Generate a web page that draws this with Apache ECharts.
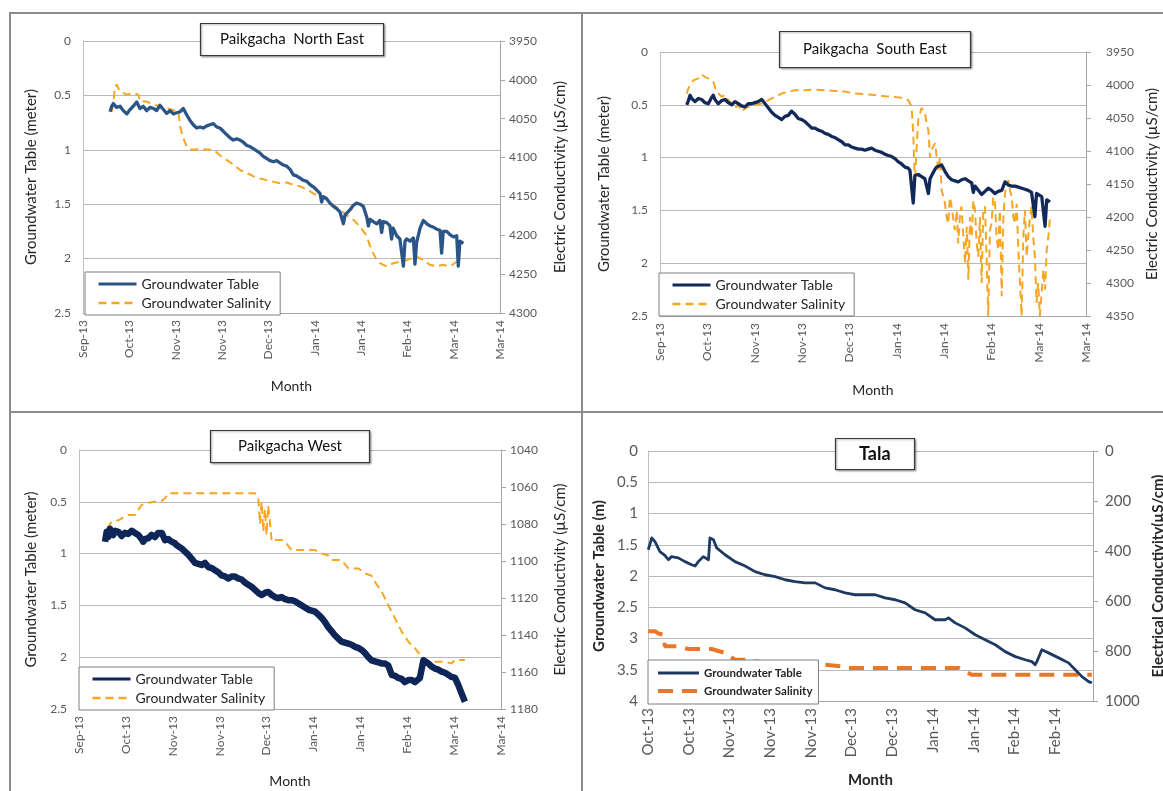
<!DOCTYPE html>
<html><head><meta charset="utf-8">
<script src="https://cdn.jsdelivr.net/npm/echarts@6/dist/echarts.min.js"></script>
<style>
html,body{margin:0;padding:0;background:#fff;}
#wrap{position:relative;width:1163px;height:791px;overflow:hidden;background:#fff;}
.p{position:absolute;}
.ln{position:absolute;background:#8c8c8c;}
</style></head><body>
<div id="wrap">
<div class="p" id="c1" style="left:0;top:0;width:582px;height:412px"></div>
<div class="p" id="c2" style="left:582px;top:0;width:581px;height:412px"></div>
<div class="p" id="c3" style="left:0;top:412px;width:582px;height:379px"></div>
<div class="p" id="c4" style="left:582px;top:412px;width:581px;height:379px"></div>
<div class="ln" style="left:9px;top:12px;width:1154px;height:1.5px"></div>
<div class="ln" style="left:9px;top:12px;width:1.5px;height:779px"></div>
<div class="ln" style="left:581px;top:12px;width:2px;height:779px"></div>
<div class="ln" style="left:9px;top:411px;width:1154px;height:2px"></div>
</div>
<script>
// ---------- tick labels (x axis, day offsets from first tick) ----------
var xLabelsPaik = ['Sep-13','Oct-13','Nov-13','Nov-13','Dec-13','Jan-14','Jan-14','Feb-14','Mar-14','Mar-14'];
var xLabelsTala = ['Oct-13','Oct-13','Nov-13','Nov-13','Nov-13','Dec-13','Dec-13','Jan-14','Jan-14','Feb-14','Feb-14'];

// ---------- Paikgacha North East: [day, depth m] / [day, EC µS/cm] ----------
var neTable = [[11.7,0.65],[12.4,0.60],[13.1,0.575],[14.5,0.61],[16.0,0.60],[17.4,0.64],[18.9,0.67],[20.3,0.63],[21.7,0.60],[23.2,0.56],[24.6,0.62],[26.0,0.60],[27.5,0.64],[28.9,0.61],[30.4,0.62],[31.8,0.64],[33.2,0.59],[34.7,0.63],[36.1,0.665],[37.6,0.64],[39.0,0.67],[40.4,0.66],[41.9,0.65],[43.3,0.62],[44.8,0.68],[46.2,0.73],[47.6,0.77],[49.1,0.80],[50.5,0.79],[51.9,0.80],[53.4,0.78],[54.8,0.77],[56.3,0.76],[57.7,0.79],[59.1,0.80],[60.6,0.83],[62.0,0.86],[63.5,0.89],[64.9,0.91],[66.3,0.90],[67.8,0.91],[69.2,0.93],[70.7,0.96],[72.1,0.97],[73.5,0.99],[75.0,1.01],[76.4,1.03],[77.8,1.06],[79.3,1.08],[80.7,1.10],[82.2,1.11],[83.6,1.10],[85.0,1.12],[86.5,1.14],[87.9,1.15],[89.4,1.18],[90.8,1.23],[92.2,1.24],[93.7,1.26],[95.1,1.28],[96.6,1.29],[98.0,1.32],[99.4,1.34],[100.9,1.37],[102.3,1.40],[103.0,1.48],[103.7,1.43],[105.2,1.45],[106.6,1.49],[108.1,1.52],[109.5,1.54],[110.9,1.57],[112.4,1.68],[113.1,1.60],[113.8,1.61],[115.3,1.55],[116.7,1.51],[118.1,1.49],[119.6,1.50],[121.0,1.52],[122.5,1.62],[123.2,1.70],[123.9,1.64],[125.3,1.66],[126.8,1.68],[128.2,1.65],[128.9,1.76],[129.6,1.66],[131.1,1.67],[132.5,1.70],[133.2,1.82],[133.9,1.72],[135.4,1.79],[136.8,1.82],[138.3,2.07],[139.0,1.84],[139.7,1.82],[141.2,1.84],[142.6,1.81],[143.3,2.05],[144.0,1.85],[145.5,1.72],[146.9,1.65],[148.4,1.68],[149.8,1.70],[151.2,1.71],[152.7,1.73],[154.1,1.74],[154.8,1.95],[155.5,1.75],[157.0,1.75],[158.4,1.78],[159.9,1.80],[161.3,1.79],[162.0,2.07],[162.7,1.84],[164.2,1.86]];
var neSalinity = [[12.4,4041],[13.1,4030],[13.8,4009],[14.5,4006],[16.0,4015],[18.9,4019],[21.7,4017],[23.9,4019],[24.6,4028],[27.5,4028],[30.4,4032],[33.2,4034],[36.1,4036],[39.0,4039],[41.2,4041],[41.9,4060],[43.3,4075],[44.8,4086],[46.9,4090],[50.5,4089],[56.3,4090],[59.1,4097],[62.0,4103],[64.9,4109],[67.8,4116],[70.7,4120],[73.5,4124],[76.4,4127],[79.3,4129],[82.2,4131],[85.0,4133],[87.9,4132],[90.8,4135],[93.7,4137],[96.6,4141],[99.4,4146],[102.3,4150],[105.2,4154],[108.1,4161],[110.9,4167],[113.8,4174],[116.7,4180],[119.6,4189],[122.5,4201],[123.9,4214],[125.3,4223],[126.8,4232],[128.2,4236],[131.1,4240],[133.9,4236],[136.8,4234],[139.7,4232],[142.6,4229],[144.0,4227],[146.9,4232],[149.8,4238],[152.7,4240],[155.5,4238],[158.4,4240],[161.3,4234],[162.7,4232]];

// ---------- Paikgacha South East ----------
var seTable = [[11.3,0.50],[12.0,0.46],[12.7,0.41],[13.4,0.44],[14.8,0.47],[16.2,0.44],[17.6,0.45],[19.0,0.48],[20.4,0.49],[21.8,0.43],[22.5,0.41],[23.2,0.45],[24.6,0.49],[26.1,0.46],[27.5,0.45],[28.9,0.48],[30.3,0.50],[31.7,0.47],[33.1,0.49],[34.5,0.51],[35.9,0.52],[37.3,0.49],[38.7,0.49],[40.1,0.48],[41.5,0.47],[43.0,0.45],[44.4,0.49],[45.8,0.53],[47.2,0.57],[48.6,0.60],[50.0,0.62],[51.4,0.64],[52.8,0.61],[54.2,0.60],[55.6,0.56],[57.0,0.59],[58.4,0.63],[59.9,0.64],[61.3,0.66],[62.7,0.69],[64.1,0.72],[65.5,0.72],[66.9,0.74],[68.3,0.75],[69.7,0.77],[71.1,0.78],[72.5,0.80],[73.9,0.81],[75.3,0.83],[76.8,0.85],[78.2,0.88],[79.6,0.88],[81.0,0.90],[82.4,0.91],[83.8,0.92],[85.2,0.92],[86.6,0.93],[88.0,0.92],[89.4,0.91],[90.8,0.93],[92.2,0.94],[93.7,0.95],[95.1,0.97],[96.5,0.98],[97.9,0.99],[99.3,1.01],[100.7,1.04],[102.1,1.06],[103.5,1.09],[104.9,1.10],[105.6,1.12],[106.3,1.13],[107.0,1.43],[107.7,1.17],[109.1,1.16],[110.5,1.18],[111.9,1.20],[112.7,1.21],[113.4,1.34],[114.1,1.20],[114.8,1.17],[116.2,1.11],[116.9,1.09],[117.6,1.08],[119.0,1.07],[120.4,1.13],[121.8,1.18],[123.2,1.21],[124.6,1.22],[126.0,1.23],[127.4,1.21],[128.9,1.20],[130.3,1.22],[131.7,1.24],[132.4,1.33],[133.1,1.27],[134.5,1.31],[135.9,1.35],[137.3,1.32],[138.7,1.29],[140.1,1.31],[141.5,1.34],[142.9,1.32],[144.4,1.31],[145.8,1.23],[147.2,1.26],[148.6,1.27],[150.0,1.27],[151.4,1.28],[152.8,1.29],[154.2,1.30],[155.6,1.31],[157.0,1.33],[158.4,1.56],[159.1,1.34],[159.8,1.34],[161.3,1.37],[162.7,1.65],[163.4,1.40],[164.8,1.42]];
var seSalinity = [[11.3,4013],[12.0,4005],[12.7,4008],[14.1,3993],[16.2,3990],[17.6,3984],[19.0,3988],[20.4,3990],[22.5,3995],[23.9,4010],[26.1,4018],[27.5,4015],[28.9,4023],[30.3,4028],[31.7,4035],[33.1,4030],[34.5,4040],[35.9,4036],[37.3,4033],[40.1,4030],[43.0,4028],[45.8,4023],[48.6,4018],[51.4,4013],[54.2,4010],[57.0,4008],[61.3,4008],[65.5,4007],[69.7,4008],[73.9,4009],[78.2,4010],[82.4,4013],[86.6,4014],[90.8,4015],[95.1,4017],[99.3,4018],[102.8,4020],[104.9,4023],[106.3,4033],[107.0,4073],[107.7,4149],[108.4,4098],[109.1,4053],[110.5,4035],[111.9,4040],[112.7,4060],[113.4,4068],[114.1,4110],[114.8,4098],[116.2,4088],[117.6,4129],[118.3,4110],[119.0,4159],[120.4,4179],[121.1,4200],[121.8,4210],[122.5,4170],[123.2,4184],[124.6,4220],[125.4,4190],[126.0,4240],[126.7,4200],[127.4,4184],[128.2,4230],[128.9,4270],[129.6,4215],[130.3,4295],[131.0,4200],[131.7,4230],[132.4,4175],[133.1,4189],[133.8,4240],[134.5,4260],[135.2,4200],[135.9,4300],[136.6,4190],[137.3,4184],[138.0,4260],[138.7,4350],[139.4,4220],[140.1,4210],[140.8,4170],[141.5,4174],[142.2,4230],[142.9,4250],[143.6,4190],[144.4,4320],[145.1,4200],[145.8,4164],[146.5,4150],[147.2,4144],[147.9,4160],[148.6,4169],[149.3,4200],[150.0,4210],[150.7,4180],[151.4,4250],[152.1,4300],[152.8,4350],[153.5,4230],[154.2,4189],[154.9,4260],[155.6,4230],[156.3,4200],[157.0,4184],[157.7,4230],[158.4,4260],[159.1,4330],[159.8,4300],[160.5,4350],[161.3,4350],[162.0,4280],[162.7,4310],[163.4,4250],[164.1,4230],[164.8,4200]];

// ---------- Paikgacha West ----------
var wTable = [[11.1,0.885],[11.8,0.79],[12.5,0.84],[13.2,0.76],[13.9,0.80],[14.6,0.82],[15.4,0.78],[16.8,0.79],[18.2,0.83],[18.9,0.84],[19.6,0.80],[21.0,0.81],[22.5,0.78],[23.2,0.77],[23.9,0.80],[25.3,0.82],[26.7,0.86],[27.4,0.885],[28.1,0.86],[29.6,0.85],[31.0,0.82],[32.4,0.84],[33.8,0.80],[34.5,0.79],[35.3,0.80],[36.7,0.87],[38.1,0.86],[39.5,0.885],[40.9,0.90],[41.7,0.92],[42.4,0.93],[43.8,0.95],[45.2,0.98],[46.6,1.01],[48.1,1.05],[49.5,1.09],[50.9,1.10],[52.3,1.11],[53.7,1.09],[55.2,1.13],[56.6,1.14],[58.0,1.16],[59.4,1.18],[60.8,1.21],[62.3,1.22],[63.7,1.24],[65.1,1.22],[66.5,1.22],[67.9,1.24],[69.4,1.25],[70.8,1.28],[72.2,1.30],[73.6,1.32],[75.1,1.35],[76.5,1.38],[77.9,1.40],[79.3,1.38],[80.7,1.37],[82.2,1.40],[83.6,1.42],[85.0,1.43],[86.4,1.42],[87.9,1.44],[89.3,1.45],[90.7,1.45],[92.1,1.46],[93.5,1.48],[95.0,1.50],[96.4,1.52],[97.8,1.54],[99.2,1.55],[100.7,1.56],[102.1,1.59],[103.5,1.62],[104.9,1.66],[106.3,1.71],[107.8,1.75],[109.2,1.79],[110.6,1.82],[112.0,1.85],[113.4,1.86],[114.9,1.87],[116.3,1.88],[117.7,1.90],[119.1,1.91],[120.6,1.93],[122.0,1.96],[123.4,2.00],[124.8,2.03],[126.2,2.04],[127.7,2.05],[129.1,2.06],[130.5,2.06],[131.9,2.08],[133.4,2.17],[134.8,2.18],[136.2,2.20],[137.6,2.21],[139.0,2.24],[140.5,2.22],[141.9,2.22],[143.3,2.24],[144.0,2.25],[145.4,2.20],[146.9,2.03],[147.6,2.04],[149.0,2.06],[150.4,2.09],[151.8,2.11],[153.3,2.12],[154.7,2.14],[156.1,2.15],[157.5,2.17],[158.9,2.19],[160.4,2.20],[161.8,2.27],[163.2,2.35],[164.6,2.43]];
var wSalinity = [[11.1,1089.5],[11.8,1085.0],[12.5,1081.5],[13.9,1078.7],[16.8,1078.0],[19.6,1076.0],[21.0,1075.1],[23.9,1075.1],[26.7,1069.7],[29.6,1068.5],[32.4,1067.9],[35.3,1067.5],[36.7,1066.1],[38.1,1063.4],[40.9,1063.4],[48.1,1063.4],[55.2,1063.4],[62.3,1063.4],[69.4,1063.4],[75.1,1063.4],[76.5,1066],[77.2,1080],[77.9,1068],[78.6,1084],[79.3,1072],[80.0,1086],[80.7,1070],[81.5,1080],[82.2,1089.5],[83.6,1088.6],[86.4,1088.6],[87.9,1089.5],[89.3,1092],[90.7,1094.1],[97.8,1094.1],[100.7,1094.1],[103.5,1095.9],[106.3,1097],[107.8,1099.5],[112.0,1099.5],[114.9,1104.0],[119.1,1104.0],[122.0,1106.7],[124.8,1108],[126.2,1111.2],[129.1,1116.6],[131.9,1123.8],[134.8,1131.0],[137.6,1138.2],[140.5,1143.6],[143.3,1147.2],[146.2,1151.7],[149.0,1154.4],[154.7,1154.4],[158.9,1155.3],[160.4,1153.5],[164.6,1153.5]];

// ---------- Tala ----------
var taTable = [[0.1,1.58],[1.3,1.39],[1.8,1.40],[2.4,1.45],[4.1,1.61],[5.8,1.67],[7.0,1.74],[8.1,1.69],[10.4,1.71],[12.7,1.77],[15.0,1.82],[16.2,1.84],[17.3,1.77],[19.0,1.69],[20.8,1.74],[21.3,1.39],[22.5,1.42],[23.6,1.55],[26.5,1.66],[29.9,1.77],[33.4,1.84],[36.8,1.93],[40.2,1.98],[43.7,2.01],[47.1,2.06],[50.6,2.09],[54.0,2.11],[57.5,2.11],[60.9,2.19],[64.3,2.22],[67.8,2.27],[71.2,2.30],[74.6,2.30],[78.1,2.30],[81.5,2.35],[85.0,2.38],[88.4,2.43],[91.8,2.54],[95.3,2.59],[98.7,2.70],[102.2,2.70],[103.3,2.67],[105.6,2.75],[109.0,2.83],[112.5,2.94],[115.9,3.02],[119.4,3.10],[122.8,3.21],[126.3,3.29],[129.7,3.34],[132.0,3.37],[133.1,3.42],[133.7,3.37],[135.4,3.18],[137.7,3.23],[141.2,3.31],[144.6,3.39],[146.9,3.50],[149.2,3.61],[151.5,3.69],[152.6,3.71]];
var taSalinity = [[0.1,721],[2.4,721],[3.6,730],[5.3,735],[5.8,781],[9.9,781],[13.9,792],[21.9,792],[24.2,800],[26.5,808],[29.9,835],[34.5,835],[39.1,845],[41.4,858],[47.1,855],[60.9,855],[66.6,862],[67.8,868],[106.8,868],[111.3,895],[152.6,895]];

var FONT = 'Lato';

function makeOption(c) {
  var fmt = function (v) {
    var i = Math.round(v / c.xInterval);
    return (Math.abs(v - i * c.xInterval) < 1e-6 && i < c.xLabels.length) ? c.xLabels[i] : '';
  };
  var plain = function (v) { return String(v); };
  var lblColor = '#595959';
  var nameStyle = { fontFamily: FONT, fontSize: c.nameSize, fontWeight: c.bold ? 'bold' : 'normal', color: '#262626' };
  return {
    animation: false,
    textStyle: { fontFamily: FONT },
    title: {
      text: c.title, left: c.titleLeft, top: c.titleTop, padding: c.titlePad,
      borderColor: '#3a3a3a', borderWidth: 1.2, backgroundColor: '#fff',
      shadowColor: 'rgba(0,0,0,0.35)', shadowBlur: 2, shadowOffsetX: 1, shadowOffsetY: 1,
      textStyle: { fontFamily: FONT, fontSize: c.titleSize, fontWeight: c.bold ? 'bold' : 'normal', color: '#111' }
    },
    legend: {
      orient: 'vertical', left: c.legLeft, top: c.legTop, padding: c.legPad, itemGap: c.legGap,
      itemWidth: c.legIconW, itemHeight: 14, borderColor: '#7f7f7f', borderWidth: 1, backgroundColor: '#fff',
      borderRadius: 0, selectedMode: false,
      itemStyle: { color: 'rgba(0,0,0,0)', borderColor: 'rgba(0,0,0,0)', borderWidth: 0 },
      textStyle: { fontFamily: FONT, fontSize: c.legSize, fontWeight: c.bold ? 'bold' : 'normal', color: '#262626' },
      data: [
        { name: 'Groundwater Table', lineStyle: { width: c.legBlueW } },
        { name: 'Groundwater Salinity', lineStyle: { width: c.legOrangeW } }
      ]
    },
    grid: { left: c.gl, top: c.gt, width: c.gw, height: c.gh, containLabel: false, outerBoundsMode: 'none' },
    xAxis: {
      type: 'value', min: 0, max: c.xMax, interval: c.xInterval,
      name: 'Month', nameLocation: 'middle', nameGap: c.monthGap,
      nameTextStyle: { fontFamily: FONT, fontSize: c.monthSize, fontWeight: c.bold ? 'bold' : 'normal', color: '#262626' },
      axisLine: { onZero: false, lineStyle: { color: '#a6a6a6', width: 1 } },
      axisTick: { show: false }, splitLine: { show: false },
      axisLabel: { rotate: 90, margin: 7, color: lblColor, fontFamily: FONT, fontSize: c.tickSize, formatter: fmt, showMaxLabel: c.showMax, hideOverlap: false }
    },
    yAxis: [{
      type: 'value', inverse: true, min: 0, max: c.yMax, interval: 0.5, position: 'left',
      name: c.leftName, nameLocation: 'middle', nameRotate: 90, nameGap: c.leftGap,
      nameTextStyle: nameStyle,
      axisLine: { show: true, onZero: false, lineStyle: { color: '#bfbfbf' } },
      axisTick: { show: false },
      splitLine: { show: true, lineStyle: { color: '#b8b8b8', width: 1 } },
      axisLabel: { margin: c.yLblMargin, color: lblColor, fontFamily: FONT, fontSize: c.tickSize, formatter: plain }
    }, {
      type: 'value', inverse: true, min: c.ecMin, max: c.ecMax, interval: c.ecInterval, position: 'right',
      name: c.rightName, nameLocation: 'middle', nameRotate: 90, nameGap: c.rightGap,
      nameTextStyle: nameStyle,
      axisLine: { show: true, onZero: false, lineStyle: { color: '#a6a6a6' } },
      axisTick: { show: true, inside: false, length: 5, lineStyle: { color: '#a6a6a6' } },
      splitLine: { show: false },
      axisLabel: { margin: c.rLblMargin, color: lblColor, fontFamily: FONT, fontSize: c.tickSize, formatter: plain }
    }],
    series: [{
      name: 'Groundwater Table', type: 'line', yAxisIndex: 0, data: c.table,
      symbol: 'none', showSymbol: false, z: 3,
      lineStyle: { color: c.blue, width: c.blueW, join: 'round' }, itemStyle: { color: c.blue }
    }, {
      name: 'Groundwater Salinity', type: 'line', yAxisIndex: 1, data: c.salinity,
      symbol: 'none', showSymbol: false, z: 2,
      lineStyle: { color: c.orange, width: c.orangeW, type: c.dash }, itemStyle: { color: c.orange }
    }]
  };
}

var common = {
  xLabels: xLabelsPaik, xInterval: 20, xMax: 180, showMax: true, yMax: 2.5,
  tickSize: 12, nameSize: 15, monthSize: 14, titleSize: 15, legSize: 14, bold: false,
  leftName: 'Groundwater Table (meter)', rightName: 'Electric Conductivity (µS/cm)',
  orange: '#F5A623', orangeW: 2, dash: [8, 5], yLblMargin: 12, rLblMargin: 9,
  legPad: [5, 9, 5, 12], legGap: 5, legIconW: 38, legBlueW: 3, legOrangeW: 2.5
};
function merge(a, b) { var o = {}, k; for (k in a) o[k] = a[k]; for (k in b) o[k] = b[k]; return o; }

var panels = [
  ['c1', merge(common, { title: 'Paikgacha  North East', titleLeft: 200, titleTop: 23, titlePad: [9, 20],
    gl: 83, gt: 41, gw: 417, gh: 272, ecMin: 3950, ecMax: 4300, ecInterval: 50,
    leftGap: 44, rightGap: 53, monthGap: 66, legLeft: 85, legTop: 272,
    table: neTable, salinity: neSalinity, blue: '#2B5586', blueW: 3.3 })],
  ['c2', merge(common, { title: 'Paikgacha  South East', titleLeft: 197, titleTop: 31, titlePad: [11, 24],
    gl: 78, gt: 52, gw: 426, gh: 264, ecMin: 3950, ecMax: 4350, ecInterval: 50,
    leftGap: 48, rightGap: 52, rLblMargin: 20, monthGap: 67, legLeft: 77, legTop: 273,
    table: seTable, salinity: seSalinity, blue: '#13295A', blueW: 3.3 })],
  ['c3', merge(common, { title: 'Paikgacha West', titleLeft: 210, titleTop: 18, titlePad: [9, 28],
    gl: 79, gt: 38, gw: 422, gh: 259, ecMin: 1040, ecMax: 1180, ecInterval: 20,
    leftGap: 40, rightGap: 52, monthGap: 65, legLeft: 79, legTop: 255,
    table: wTable, salinity: wSalinity, blue: '#0D2657', blueW: 6.5 })],
  ['c4', merge(common, { title: 'Tala', titleLeft: 253, titleTop: 26, titlePad: [7, 24], titleSize: 18, bold: true,
    xLabels: xLabelsTala, xInterval: 14, xMax: 153, showMax: false, yMax: 4,
    tickSize: 15, nameSize: 15, monthSize: 15, legSize: 11.5, yLblMargin: 10, rLblMargin: 12,
    leftName: 'Groundwater Table (m)', rightName: 'Electrical Conductivity(µS/cm)',
    gl: 66, gt: 39, gw: 445, gh: 250, ecMin: 0, ecMax: 1000, ecInterval: 200,
    leftGap: 40, rightGap: 54, monthGap: 72, legLeft: 66, legTop: 248,
    legPad: [7, 6, 7, 8], legGap: 6, legIconW: 41, legBlueW: 3, legOrangeW: 4,
    table: taTable, salinity: taSalinity, blue: '#1E3A62', blueW: 2.8,
    orange: '#E8772A', orangeW: 4, dash: [15, 9] })]
];

panels.forEach(function (p) {
  var ch = echarts.init(document.getElementById(p[0]), null, { renderer: 'canvas' });
  ch.setOption(makeOption(p[1]));
});
</script>
</body></html>
